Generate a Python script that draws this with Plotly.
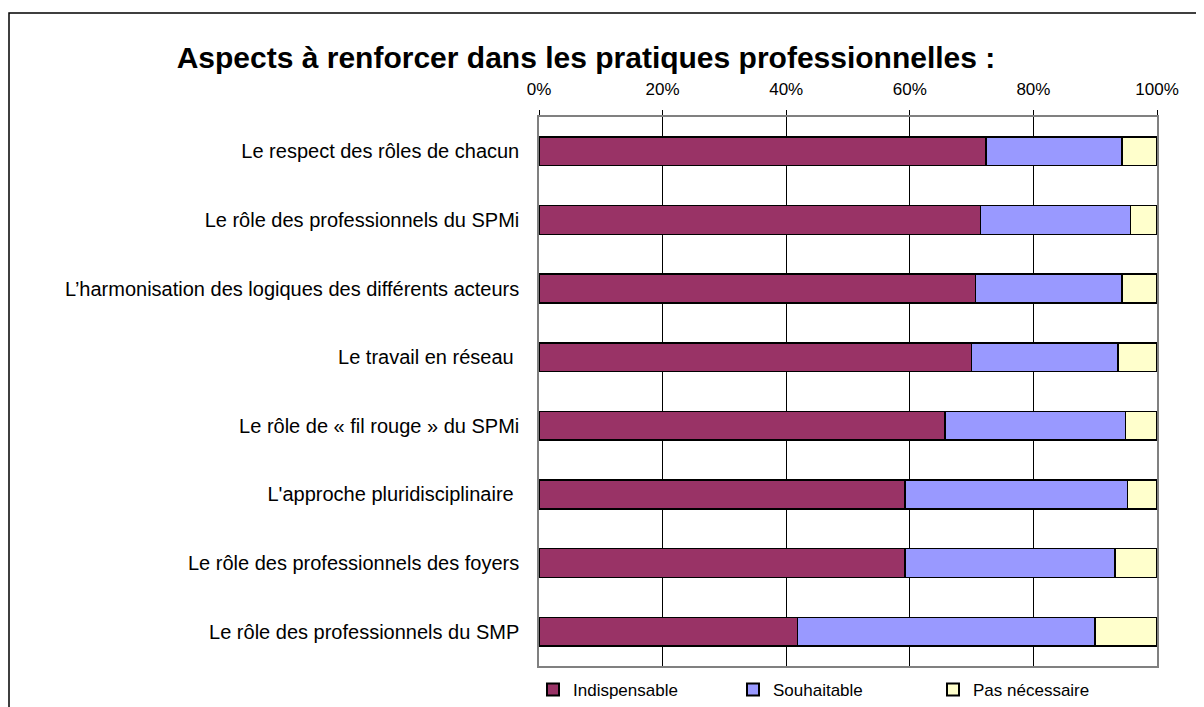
import plotly.graph_objects as go

categories = [
    "Le respect des rôles de chacun",
    "Le rôle des professionnels du SPMi",
    "L’harmonisation des logiques des différents acteurs",
    "Le travail en réseau ",
    "Le rôle de « fil rouge » du SPMi",
    "L'approche pluridisciplinaire ",
    "Le rôle des professionnels des foyers",
    "Le rôle des professionnels du SMP",
]
indispensable = [72.3, 71.4, 70.6, 70.0, 65.7, 59.2, 59.2, 41.8]
souhaitable = [22.0, 24.3, 23.7, 23.7, 29.2, 36.0, 34.0, 48.2]
pas_necessaire = [5.7, 4.3, 5.7, 6.3, 5.1, 4.8, 6.8, 10.0]

series = [
    ("Indispensable", indispensable, "#993366"),
    ("Souhaitable", souhaitable, "#9999FF"),
    ("Pas nécessaire", pas_necessaire, "#FFFFCC"),
]
tick_vals = [0, 20, 40, 60, 80, 100]
tick_text = ["0%", "20%", "40%", "60%", "80%", "100%"]

FONT = "Liberation Sans, Arial, sans-serif"
# page has an 8px body margin: figure coordinates = screen - 8
W, H = 1196, 699
L, R, T, B = 531, 1149, 109, 658

fig = go.Figure()
for name, vals, color in series:
    fig.add_trace(go.Bar(
        y=categories, x=vals, name=name, orientation="h",
        marker=dict(color=color, line=dict(color="black", width=1.5)),
        width=0.42,
    ))

def px_x(p):
    return (p - L) / (R - L)

def px_y(p):
    return (B - p) / (B - T)

fig.update_layout(
    width=W, height=H,
    barmode="stack",
    paper_bgcolor="white", plot_bgcolor="white",
    margin=dict(l=L, r=W - R, t=T, b=H - B, autoexpand=False),
    font=dict(family=FONT, color="black"),
    title=dict(
        text="<b>Aspects à renforcer dans les pratiques professionnelles :</b>",
        x=578 / W, xanchor="center", y=1 - 49 / H, yanchor="middle",
        font=dict(size=30, family=FONT, color="black"),
    ),
    xaxis=dict(
        range=[0, 100], side="top", tickvals=tick_vals, ticktext=tick_text,
        showgrid=True, gridcolor="black", gridwidth=1,
        showline=True, linecolor="#808080", linewidth=1.5, mirror=True,
        ticks="outside", ticklen=5, tickcolor="black",
        ticklabelstandoff=8,
        tickfont=dict(size=17, family=FONT, color="black"),
        zeroline=False, fixedrange=True,
    ),
    yaxis=dict(
        categoryorder="array", categoryarray=categories[::-1],
        showline=True, linecolor="#808080", linewidth=1.5, mirror=True,
        ticks="", ticklabelstandoff=14,
        tickfont=dict(size=20, family=FONT, color="black"),
        showgrid=False, fixedrange=True,
    ),
    legend=dict(
        orientation="h", x=px_x(525), xanchor="left", y=px_y(682), yanchor="middle",
        traceorder="normal", entrywidth=155, entrywidthmode="pixels",
        font=dict(size=17, family=FONT, color="black"),
        itemsizing="constant", bgcolor="rgba(0,0,0,0)",
    ),
    shapes=[dict(
        type="rect", xref="paper", yref="paper",
        x0=px_x(1), x1=px_x(1210), y0=px_y(5), y1=px_y(720),
        line=dict(color="black", width=1.5), fillcolor="rgba(0,0,0,0)", layer="below",
    )],
    showlegend=True,
)

fig.write_html("out.html")
